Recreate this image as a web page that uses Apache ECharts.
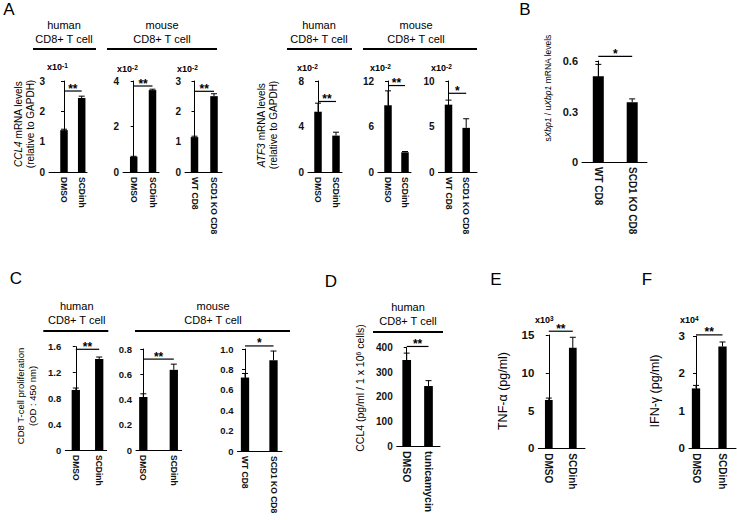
<!DOCTYPE html>
<html><head><meta charset="utf-8">
<script src="https://cdn.jsdelivr.net/npm/echarts@6/dist/echarts.min.js"></script>
<style>html,body{margin:0;padding:0;background:#fff}#c{width:737px;height:520px}</style>
</head><body><div id="c"></div>
<script>
// ---------------- data ----------------
const catsDrug = ['DMSO', 'SCDinh'];
const catsKO = ['WT CD8', 'SCD1 KO CD8'];
const catsTun = ['DMSO', 'tunicamycin'];

// A: CCL4 mRNA
const valsA1 = [1.38, 2.44];  const errsA1 = [0.03, 0.06];  const ticksA1 = ['0','1','2','3'];
const valsA2 = [0.67, 3.6];   const errsA2 = [0.02, 0.04];  const ticksA2 = ['0','2','4'];
const valsA3 = [1.15, 2.5];   const errsA3 = [0.03, 0.08];  const ticksA3 = ['0','1','2','3'];
// A: ATF3 mRNA
const valsA4 = [5.3, 3.2];    const errsA4 = [0.75, 0.3];   const ticksA4 = ['0','4','8'];
const valsA5 = [8.8, 2.6];    const errsA5 = [1.9, 0.1];    const ticksA5 = ['0','6','12'];
const valsA6 = [7.4, 4.85];   const errsA6 = [0.5, 1.0];    const ticksA6 = ['0','5','10'];
// B: sXbp1/uXbp1
const valsB = [0.51, 0.355];  const errsB = [0.07, 0.02];   const ticksB = ['0','0.3','0.6'];
// C: proliferation
const valsC1 = [0.93, 1.41];  const errsC1 = [0.03, 0.03];  const ticksC1 = ['0','0.4','0.8','1.2','1.6'];
const valsC2 = [0.42, 0.635]; const errsC2 = [0.025, 0.045]; const ticksC2 = ['0','0.2','0.4','0.6','0.8'];
const valsC3 = [0.72, 0.89];  const errsC3 = [0.04, 0.09];  const ticksC3 = ['0','0.2','0.4','0.6','0.8','1.0'];
// D: CCL4 protein
const valsD = [350, 244];     const errsD = [28, 22];       const ticksD = ['0','100','200','300','400'];
// E: TNF-a, F: IFN-g
const valsE = [6.4, 13.3];    const errsE = [0.25, 1.4];    const ticksE = ['0','5','10','15'];
const valsF = [1.6, 2.72];    const errsF = [0.08, 0.12];   const ticksF = ['0','1','2','3'];

const sigMarks = {A1:'**', A2:'**', A3:'**', A4:'**', A5:'**', A6:'*', B:'*', C1:'**', C2:'**', C3:'*', D:'**', E:'**', F:'**'};

// ---------------- layout (pixels / styles) ----------------
const layout = {
  A1:{ax:49,  ar:87,  c:[64,81.7],   top:81,  bottom:172, bw:7.5, sig:2.67, yfs:10,   xfs:8.5},
  A2:{ax:123, ar:159, c:[133.7,152.5],top:81, bottom:172, bw:7.5, sig:3.78, yfs:10,   xfs:8.5},
  A3:{ax:185, ar:222, c:[194.5,214], top:81,  bottom:172, bw:7.5, sig:2.66, yfs:10,   xfs:8.5},
  A4:{ax:308, ar:342, c:[318,336],   top:81,  bottom:172, bw:7.5, sig:6.2,  yfs:10,   xfs:8.5},
  A5:{ax:378, ar:411, c:[388,405],   top:81,  bottom:172, bw:7.5, sig:11.4, yfs:10,   xfs:8.5},
  A6:{ax:438.5,ar:477,c:[448.5,466.2],top:81, bottom:172, bw:7.5, sig:8.65, yfs:10,   xfs:8.5},
  B: {ax:582, ar:647, c:[598.3,632.2],top:61, bottom:162, bw:11,  sig:0.627,yfs:11,   xfs:10},
  C1:{ax:65.3,ar:106.7,c:[75.8,99.2],top:346.7,bottom:450,bw:8.3, sig:1.56, yfs:9.5,  xfs:8.5},
  C2:{ax:136, ar:181.7,c:[143.3,173.8],top:349,bottom:450,bw:8.3, sig:0.72, yfs:9.5,  xfs:8.5},
  C3:{ax:237.5,ar:282,c:[245,273.5], top:349, bottom:451, bw:8.3, sig:1.03, yfs:9.5,  xfs:8.5},
  D: {ax:396.7,ar:440,c:[406.7,428.5],top:347.7,bottom:446,bw:8.7,sig:405,  yfs:10,   xfs:10.5},
  E: {ax:538.3,ar:585,c:[548.8,572.8],top:335,bottom:448.3,bw:7.7,sig:15.5, yfs:11.5, xfs:10},
  F: {ax:689, ar:736, c:[696,722.5], top:336, bottom:448.3,bw:8.3,sig:3.03, yfs:11.5, xfs:10}
};

const panels = [
  {id:'A1', cats:catsDrug, vals:valsA1, errs:errsA1, ticks:ticksA1},
  {id:'A2', cats:catsDrug, vals:valsA2, errs:errsA2, ticks:ticksA2},
  {id:'A3', cats:catsKO,   vals:valsA3, errs:errsA3, ticks:ticksA3},
  {id:'A4', cats:catsDrug, vals:valsA4, errs:errsA4, ticks:ticksA4},
  {id:'A5', cats:catsDrug, vals:valsA5, errs:errsA5, ticks:ticksA5},
  {id:'A6', cats:catsKO,   vals:valsA6, errs:errsA6, ticks:ticksA6},
  {id:'B',  cats:catsKO,   vals:valsB,  errs:errsB,  ticks:ticksB},
  {id:'C1', cats:catsDrug, vals:valsC1, errs:errsC1, ticks:ticksC1},
  {id:'C2', cats:catsDrug, vals:valsC2, errs:errsC2, ticks:ticksC2},
  {id:'C3', cats:catsKO,   vals:valsC3, errs:errsC3, ticks:ticksC3},
  {id:'D',  cats:catsTun,  vals:valsD,  errs:errsD,  ticks:ticksD},
  {id:'E',  cats:catsDrug, vals:valsE,  errs:errsE,  ticks:ticksE},
  {id:'F',  cats:catsDrug, vals:valsF,  errs:errsF,  ticks:ticksF}
];

const FONT = 'Liberation Sans, Arial, Helvetica, sans-serif';
const grid = [], xAxis = [], yAxis = [], series = [];

panels.forEach((p, i) => {
  const L = layout[p.id];
  const span = L.c[1] - L.c[0];
  const ymin = parseFloat(p.ticks[0]);
  const ymax = parseFloat(p.ticks[p.ticks.length - 1]);
  const step = parseFloat(p.ticks[1]) - ymin;
  grid.push({left:L.ax, top:L.top, width:L.ar - L.ax, height:L.bottom - L.top, containLabel:false, outerBoundsMode:'none'});
  xAxis.push({
    gridIndex:i, type:'value',
    min:(L.ax - L.c[0]) / span, max:1 + (L.ar - L.c[1]) / span,
    axisLine:{show:true, onZero:false, lineStyle:{color:'#000', width:1}},
    axisTick:{show:false}, splitLine:{show:false},
    axisLabel:{customValues:[0,1], formatter:v => p.cats[Math.round(v)], rotate:-90, margin:5,
      fontSize:L.xfs, fontWeight:'bold', color:'#111', fontFamily:FONT}
  });
  yAxis.push({
    gridIndex:i, type:'value', min:ymin, max:ymax, interval:step,
    axisLine:{show:true, lineStyle:{color:'#000', width:1}},
    axisTick:{show:true, inside:false, length:3, lineStyle:{color:'#000'}},
    splitLine:{show:false},
    axisLabel:{formatter:v => p.ticks[Math.round((v - ymin) / step)], margin:4,
      fontSize:L.yfs, fontWeight:'bold', color:'#111', fontFamily:FONT}
  });
  series.push({
    type:'bar', xAxisIndex:i, yAxisIndex:i, barWidth:L.bw, silent:true,
    itemStyle:{color:'#000'},
    data:p.vals.map((v, k) => [k, v])
  });
  series.push({
    type:'custom', xAxisIndex:i, yAxisIndex:i, silent:true,
    data:p.vals.map((v, k) => [k, v, p.errs[k]]),
    renderItem:(params, api) => {
      const x = api.value(0), v = api.value(1), e = api.value(2);
      const p0 = api.coord([x, v]), p1 = api.coord([x, v + e]);
      return {type:'group', children:[
        {type:'line', shape:{x1:p0[0], y1:p0[1], x2:p1[0], y2:p1[1]}, style:{stroke:'#000', lineWidth:1}},
        {type:'line', shape:{x1:p1[0]-3, y1:p1[1], x2:p1[0]+3, y2:p1[1]}, style:{stroke:'#000', lineWidth:1}}
      ]};
    }
  });
  series.push({
    type:'custom', xAxisIndex:i, yAxisIndex:i, silent:true,
    data:[[0, L.sig, 1]],
    renderItem:(params, api) => {
      const a = api.coord([api.value(0), api.value(1)]);
      const b = api.coord([api.value(2), api.value(1)]);
      return {type:'group', children:[
        {type:'line', shape:{x1:a[0], y1:a[1], x2:b[0], y2:b[1]}, style:{stroke:'#000', lineWidth:1.2}},
        {type:'text', style:{text:sigMarks[p.id], x:(a[0]+b[0])/2, y:a[1]-2.5, align:'center', verticalAlign:'middle',
          fontSize:12, fontWeight:'bold', fontFamily:FONT, fill:'#000'}}
      ]};
    }
  });
});

// ---------------- annotations ----------------
const g = [];
function txt(x, y, text, fs, extra) {
  g.push(Object.assign({type:'text', x:x, y:y, silent:true,
    style:Object.assign({text:text, fontSize:fs, fontFamily:FONT, fill:'#000', align:'center', verticalAlign:'middle'}, (extra && extra.style) || {})},
    extra && extra.rot ? {rotation:extra.rot} : {}));
}
function hline(x1, x2, y, w) {
  g.push({type:'line', silent:true, shape:{x1:x1, y1:y, x2:x2, y2:y}, style:{stroke:'#000', lineWidth:w || 2}});
}
// panel letters
[['A',9,9],['B',525,9],['C',16,278],['D',331,281],['E',496,279],['F',647,279]].forEach(l => txt(l[1], l[2], l[0], 17));
// group headers
const headers = [
  ['human\nCD8+ T cell', 64, 32, 33, 96, 49],
  ['mouse\nCD8+ T cell', 162, 32, 107, 217, 49],
  ['human\nCD8+ T cell', 319, 32, 287, 352, 49],
  ['mouse\nCD8+ T cell', 416, 32, 363, 477, 49],
  ['human\nCD8+ T cell', 76.7, 313, 43.3, 108.3, 331],
  ['mouse\nCD8+ T cell', 213, 313, 135, 290, 331],
  ['human\nCD8+ T cell', 408, 314, 373, 443, 332]
];
headers.forEach(h => { txt(h[1], h[2], h[0], 11, {style:{lineHeight:14}}); hline(h[3], h[4], h[5], 2); });
// scale multipliers
const supRich = {s:{fontSize:6.5, fontFamily:FONT, fontWeight:'bold', verticalAlign:'top', lineHeight:9}};
[['x10{s|-1}',47,67],['x10{s|-2}',117,69],['x10{s|-2}',177,69],['x10{s|-2}',297,68],['x10{s|-2}',370,68],['x10{s|-2}',431,68],['x10{s|3}',535,320],['x10{s|4}',680,320]]
  .forEach(u => txt(u[1], u[2], u[0], 9, {style:{align:'left', rich:supRich, lineHeight:10, fontWeight:'bold'}}));
// y titles
const R = Math.PI / 2;
const itRich = (fs) => ({i:{fontStyle:'italic', fontSize:fs, fontFamily:FONT}, s:{fontSize:fs*0.65, fontFamily:FONT, verticalAlign:'top'}});
txt(24, 124, '{i|CCL4} mRNA levels\n(relative to GAPDH)', 10, {rot:R, style:{rich:itRich(10), lineHeight:12}});
txt(267.5, 125, '{i|ATF3} mRNA levels\n(relative to GAPDH)', 10, {rot:R, style:{rich:itRich(10), lineHeight:12}});
txt(548, 88, 's{i|Xbp1} / u{i|Xbp1} mRNA levels', 8.5, {rot:R, style:{rich:itRich(8.5)}});
txt(26, 396, 'CD8 T-cell proliferation\n(OD : 450 nm)', 9.5, {rot:R, style:{lineHeight:12}});
txt(360, 388, 'CCL4 (pg/ml / 1 x 10{s|6} cells)', 10.5, {rot:R, style:{rich:itRich(10.5)}});
txt(503, 391, 'TNF-\u03b1 (pg/ml)', 12.5, {rot:R});
txt(655, 391, 'IFN-\u03b3 (pg/ml)', 12.5, {rot:R});

const chart = echarts.init(document.getElementById('c'), null, {renderer:'svg'});
chart.setOption({
  backgroundColor:'#fff', animation:false,
  textStyle:{fontFamily:FONT},
  grid:grid, xAxis:xAxis, yAxis:yAxis, series:series, graphic:g
});
</script></body></html>
